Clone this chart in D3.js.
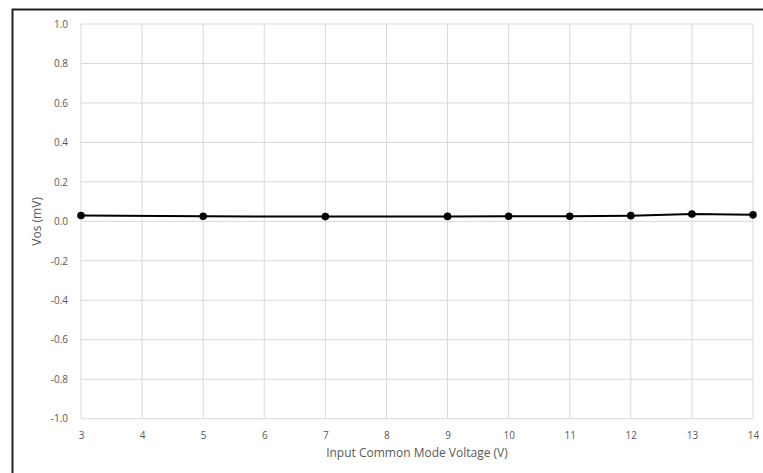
<!DOCTYPE html>
<html><head><meta charset="utf-8">
<script src="https://cdn.jsdelivr.net/npm/d3@7"></script>
<style>body{margin:0;background:#fff}svg{display:block}</style>
</head><body>
<script>
const xValues = [3, 5, 7, 9, 10, 11, 12, 13, 14];
const vosValues = [0.030, 0.026, 0.024, 0.025, 0.026, 0.026, 0.029, 0.037, 0.033];
const xTicks = [3,4,5,6,7,8,9,10,11,12,13,14];
const yTicks = [-1.0,-0.8,-0.6,-0.4,-0.2,0.0,0.2,0.4,0.6,0.8,1.0];

const W = 763, H = 473;
const m = {left: 81, right: 10, top: 24, bottom: 54};
const svg = d3.select("body").append("svg").attr("width", W).attr("height", H);
svg.append("rect").attr("x", 12.5).attr("y", 9.5).attr("width", W).attr("height", H)
  .attr("fill", "#fff").attr("stroke", "#222").attr("stroke-width", 2);

const x = d3.scaleLinear().domain([3, 14]).range([m.left, W - m.right]);
const y = d3.scaleLinear().domain([-1, 1]).range([H - m.bottom - 0.3, m.top]);
const font = "'Open Sans', 'Noto Sans', sans-serif";

const g = svg.append("g");
g.selectAll(".vg").data(xTicks).join("line")
  .attr("x1", d => x(d)).attr("x2", d => x(d)).attr("y1", y(1)).attr("y2", y(-1))
  .attr("stroke", "#d9d9d9").attr("stroke-width", 1);
g.selectAll(".hg").data(yTicks).join("line")
  .attr("x1", x(3)).attr("x2", x(14)).attr("y1", d => y(d)).attr("y2", d => y(d))
  .attr("stroke", "#d9d9d9").attr("stroke-width", 1);

const xAxis = svg.append("g").attr("transform", `translate(0,${y(-1)})`)
  .call(d3.axisBottom(x).tickValues(xTicks).tickSize(0).tickPadding(13).tickFormat(d3.format("d")));
xAxis.select(".domain").remove();
xAxis.selectAll("text").attr("fill", "#595959").style("font-family", font).style("font-size", "10px");

const yAxis = svg.append("g").attr("transform", `translate(${x(3)},0)`)
  .call(d3.axisLeft(y).tickValues(yTicks).tickSize(0).tickPadding(13)
    .tickFormat(d => d3.format(".1f")(d).replace("\u2212", "-")));
yAxis.select(".domain").remove();
yAxis.selectAll("text").attr("fill", "#595959").style("font-family", font).style("font-size", "10px");

const pts = xValues.map((v, i) => [v, vosValues[i]]);
svg.append("path").datum(pts)
  .attr("d", d3.line().x(d => x(d[0])).y(d => y(d[1])))
  .attr("fill", "none").attr("stroke", "#000").attr("stroke-width", 2);
svg.selectAll(".pt").data(pts).join("circle")
  .attr("cx", d => x(d[0])).attr("cy", d => y(d[1])).attr("r", 3.8).attr("fill", "#000");

svg.append("text").attr("x", (x(3) + x(14)) / 2).attr("y", 457)
  .attr("text-anchor", "middle").attr("fill", "#595959")
  .style("font-family", font).style("font-size", "12px").text("Input Common Mode Voltage (V)");
svg.append("text").attr("transform", `translate(41,${y(0)}) rotate(-90)`)
  .attr("text-anchor", "middle").attr("fill", "#595959")
  .style("font-family", font).style("font-size", "12px").text("Vos (mV)");
</script>
</body></html>
